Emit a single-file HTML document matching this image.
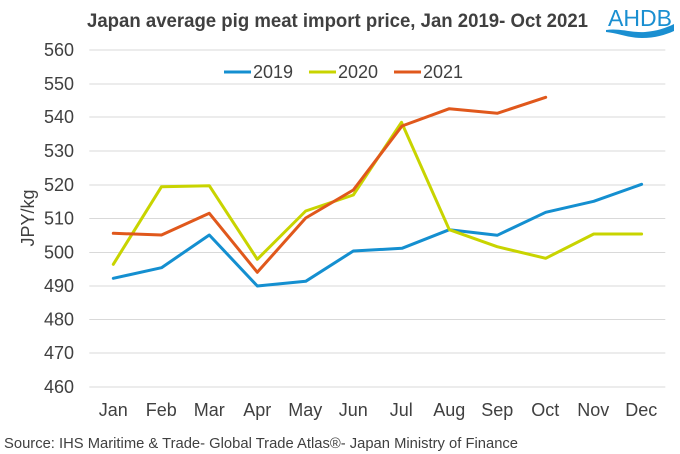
<!DOCTYPE html>
<html>
<head>
<meta charset="utf-8">
<style>
html,body{margin:0;padding:0;background:#fff;}
svg{display:block;}
text{font-family:"Liberation Sans",Arial,sans-serif;fill:#404040;}
</style>
</head>
<body>
<svg width="680" height="454" viewBox="0 0 680 454" xmlns="http://www.w3.org/2000/svg">
  <rect width="680" height="454" fill="#fff"/>
  <!-- Title -->
  <text x="87" y="27" font-size="19" font-weight="bold" textLength="501" lengthAdjust="spacingAndGlyphs">Japan average pig meat import price, Jan 2019- Oct 2021</text>
  <!-- AHDB logo -->
  <text x="608" y="26" font-size="23" style="fill:#1a8fd1" textLength="64" lengthAdjust="spacingAndGlyphs">AHDB</text>
  <path d="M606,30 C620,28 632,33 645,32 C657,31 666,28 674,24 L674,31 C665,35 655,38 642,38 C628,38 618,33 606,32 Z" fill="#1a8fd1"/>

  <!-- gridlines -->
  <g stroke="#d9d9d9" stroke-width="1">
    <line x1="89.3" x2="665.3" y1="50" y2="50"/>
    <line x1="89.3" x2="665.3" y1="84" y2="84"/>
    <line x1="89.3" x2="665.3" y1="117" y2="117"/>
    <line x1="89.3" x2="665.3" y1="151" y2="151"/>
    <line x1="89.3" x2="665.3" y1="185" y2="185"/>
    <line x1="89.3" x2="665.3" y1="218.5" y2="218.5"/>
    <line x1="89.3" x2="665.3" y1="252.5" y2="252.5"/>
    <line x1="89.3" x2="665.3" y1="286" y2="286"/>
    <line x1="89.3" x2="665.3" y1="319.5" y2="319.5"/>
    <line x1="89.3" x2="665.3" y1="353" y2="353"/>
    <line x1="89.3" x2="665.3" y1="387" y2="387"/>
  </g>

  <!-- y labels -->
  <g font-size="18" text-anchor="end">
    <text x="74" y="56">560</text>
    <text x="74" y="90">550</text>
    <text x="74" y="123">540</text>
    <text x="74" y="157">530</text>
    <text x="74" y="191">520</text>
    <text x="74" y="224.5">510</text>
    <text x="74" y="258.5">500</text>
    <text x="74" y="292">490</text>
    <text x="74" y="325.5">480</text>
    <text x="74" y="359">470</text>
    <text x="74" y="393">460</text>
  </g>

  <!-- y axis title -->
  <text transform="translate(34,218) rotate(-90)" font-size="18" text-anchor="middle">JPY/kg</text>

  <!-- x labels -->
  <g font-size="18" text-anchor="middle">
    <text x="113.3" y="416">Jan</text>
    <text x="161.3" y="416">Feb</text>
    <text x="209.3" y="416">Mar</text>
    <text x="257.3" y="416">Apr</text>
    <text x="305.3" y="416">May</text>
    <text x="353.3" y="416">Jun</text>
    <text x="401.3" y="416">Jul</text>
    <text x="449.3" y="416">Aug</text>
    <text x="497.3" y="416">Sep</text>
    <text x="545.3" y="416">Oct</text>
    <text x="593.3" y="416">Nov</text>
    <text x="641.3" y="416">Dec</text>
  </g>

  <!-- series -->
  <g fill="none" stroke-width="3" stroke-linejoin="round" stroke-linecap="round">
    <polyline stroke="#148fd0" points="113.3,278.3 161.5,267.7 209.3,235 257.3,286 305.7,281.3 353.3,251 402,248.3 449.3,229.7 497.2,235.3 545.7,212.3 593.7,201.3 641.6,184.3"/>
    <polyline stroke="#c8d400" points="113.3,264.3 161.5,186.7 209.3,185.7 257.3,259.3 305.7,211 353.3,195 401.5,122.3 449.3,229.7 497.2,246.7 545.7,258.3 593.7,234 641.6,234"/>
    <polyline stroke="#e0581c" points="113.3,233.3 161.5,235 209.3,213.3 257.3,272.3 305.7,218 353.3,190 402,126 449.3,108.7 497.2,113.3 545.7,97.3"/>
  </g>

  <!-- legend -->
  <g stroke-width="3">
    <line x1="224" x2="251" y1="72" y2="72" stroke="#148fd0"/>
    <line x1="309" x2="336" y1="72" y2="72" stroke="#c8d400"/>
    <line x1="394" x2="421" y1="72" y2="72" stroke="#e0581c"/>
  </g>
  <g font-size="18">
    <text x="253" y="78">2019</text>
    <text x="338" y="78">2020</text>
    <text x="423" y="78">2021</text>
  </g>

  <!-- source -->
  <text x="4" y="448" font-size="15" textLength="514" lengthAdjust="spacingAndGlyphs">Source: IHS Maritime &amp; Trade- Global Trade Atlas®- Japan Ministry of Finance</text>
</svg>
</body>
</html>
